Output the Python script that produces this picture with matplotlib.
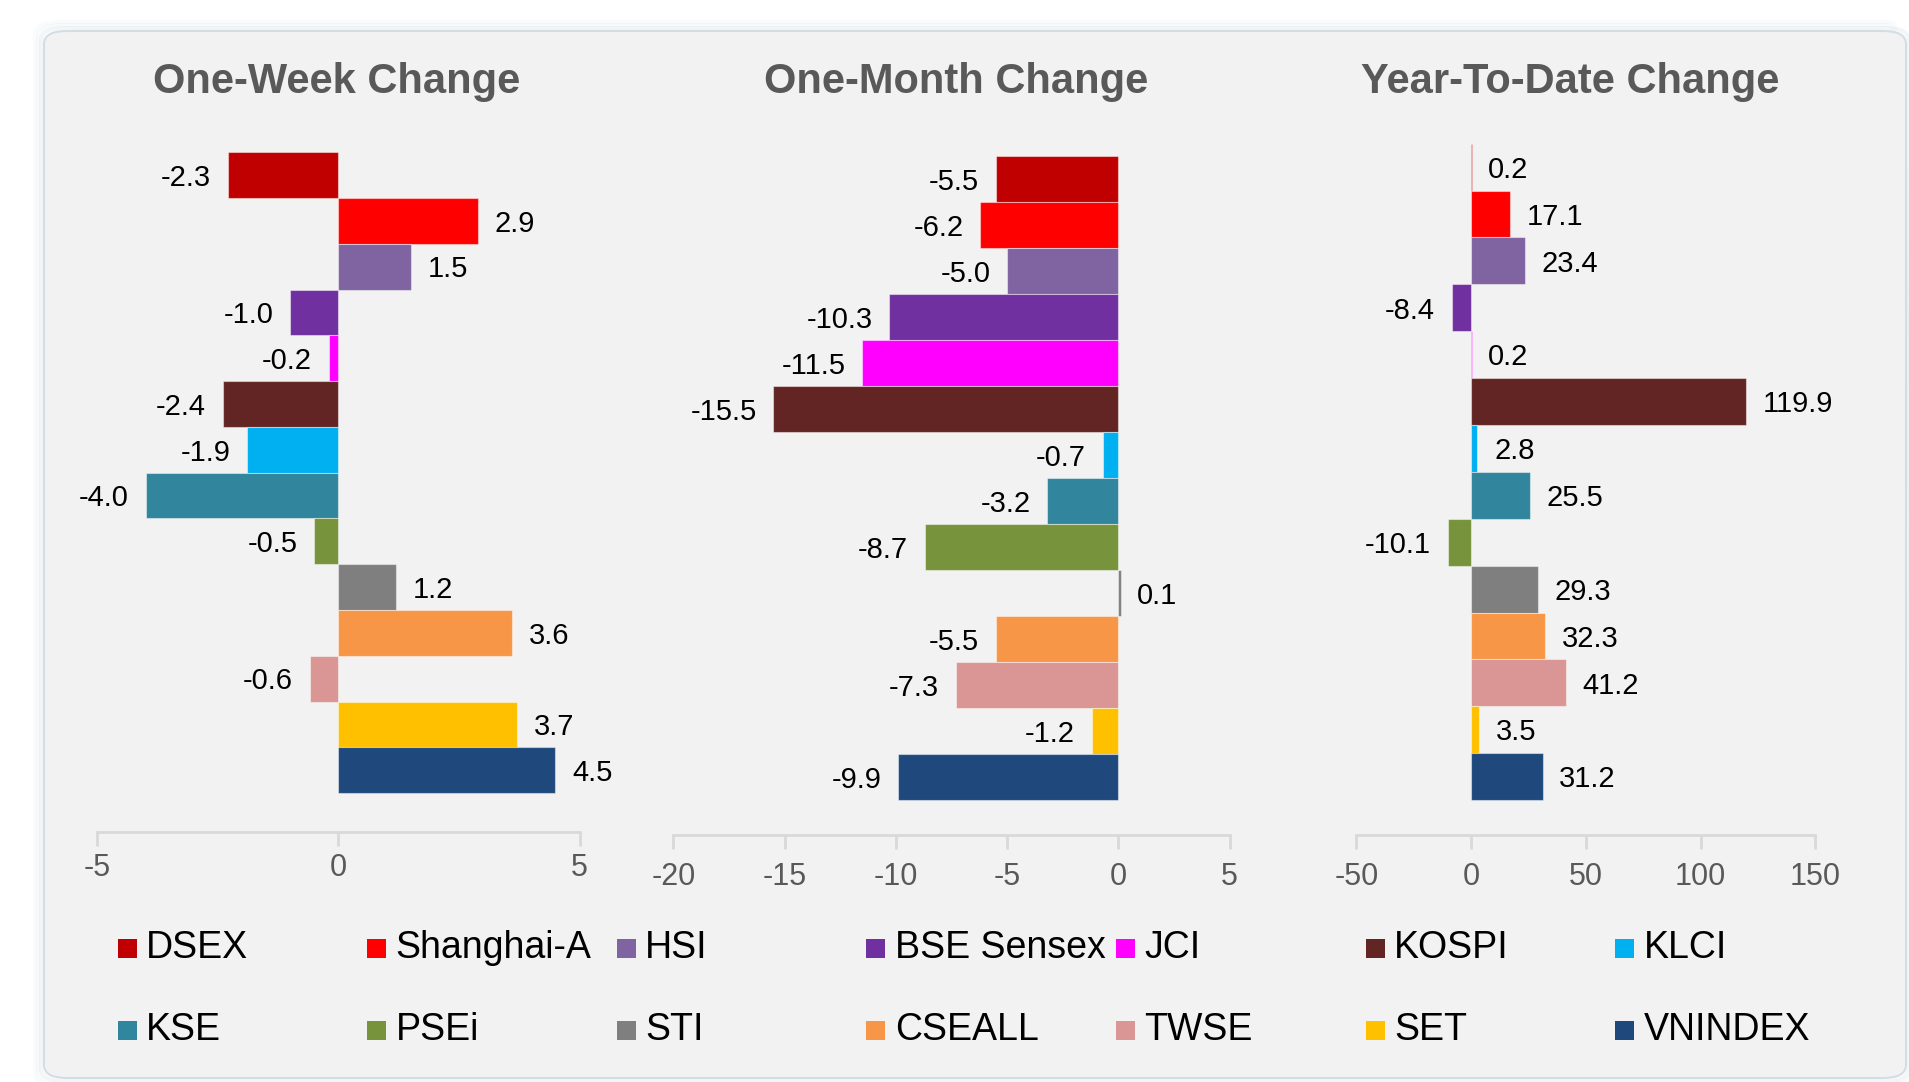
import matplotlib.pyplot as plt
from matplotlib.patches import FancyBboxPatch, Rectangle

plt.rcParams["font.family"] = ["Liberation Sans", "DejaVu Sans"]

# ---- data -------------------------------------------------------------
indices = ["DSEX", "Shanghai-A", "HSI", "BSE Sensex", "JCI", "KOSPI", "KLCI",
           "KSE", "PSEi", "STI", "CSEALL", "TWSE", "SET", "VNINDEX"]
colors = ["#C00000", "#FF0000", "#8064A2", "#7030A0", "#FF00FF", "#632523",
          "#00B0F0", "#31859C", "#77933C", "#7F7F7F", "#F79646", "#D99694",
          "#FFC000", "#1F497D"]

week_chg = [-2.3, 2.9, 1.5, -1.0, -0.2, -2.4, -1.9, -4.0, -0.5, 1.2, 3.6, -0.6, 3.7, 4.5]
month_chg = [-5.5, -6.2, -5.0, -10.3, -11.5, -15.5, -0.7, -3.2, -8.7, 0.1, -5.5, -7.3, -1.2, -9.9]
ytd_chg = [0.2, 17.1, 23.4, -8.4, 0.2, 119.9, 2.8, 25.5, -10.1, 29.3, 32.3, 41.2, 3.5, 31.2]

titles = ["One-Week Change", "One-Month Change", "Year-To-Date Change"]
ticks_week = [-5, 0, 5]
ticks_month = [-20, -15, -10, -5, 0, 5]
ticks_ytd = [-50, 0, 50, 100, 150]

W, H = 1909, 1082
fig = plt.figure(figsize=(W / 100, H / 100), dpi=100, facecolor="white")

# ---- rounded panel with soft glow (kept behind the axes) ----------------
px, py, pw, ph = 44, 4, 1862, 1047   # left, bottom, width, height (px)
for grow, a in [(9, 0.05), (6, 0.08), (3, 0.14)]:
    fig.patches.append(FancyBboxPatch(
        ((px - grow) / W, (py - grow) / H), (pw + 2 * grow) / W, (ph + 2 * grow) / H,
        boxstyle="round,pad=0,rounding_size=0.012", transform=fig.transFigure,
        fc="none", ec="#A9C0CC", lw=3, alpha=a, zorder=-2))
fig.patches.append(FancyBboxPatch(
    (px / W, py / H), pw / W, ph / H,
    boxstyle="round,pad=0,rounding_size=0.012", transform=fig.transFigure,
    fc="#F2F2F2", ec="#D3DEE4", lw=1.5, zorder=-1))

# axes boxes in pixel coords: (x_left, x_right, bar_top, axis_line_y)
boxes = [(97.4, 579.5, 152.2, 832.0),
         (673.3, 1229.7, 155.8, 835.2),
         (1356.3, 1815.3, 143.7, 835.2)]
limits = [(-5, 5), (-20, 5), (-50, 150)]
gaps = [0.85, 0.77, 0.75]
pads = [5, 9, 9]
title_x = [336.6, 955.7, 1570.6]
series = [week_chg, month_chg, ytd_chg]
tick_sets = [ticks_week, ticks_month, ticks_ytd]

n = len(indices)
for vals, (x0, x1, top, bot), lim, gap, pad, ticks, title, tx in zip(
        series, boxes, limits, gaps, pads, tick_sets, titles, title_x):
    ax = fig.add_axes([x0 / W, 1 - bot / H, (x1 - x0) / W, (bot - top) / H])
    ax.set_facecolor("none")
    ypos = list(range(n))
    ax.barh(ypos, vals, height=1.0, color=colors,
            edgecolor=(1, 1, 1, 0.45), linewidth=0.8, zorder=2)
    for y, v in zip(ypos, vals):
        off = 12 if v >= 0 else -12
        ax.annotate(f"{v:.1f}", (v, y), xytext=(off, -2), textcoords="offset points",
                    ha="left" if v >= 0 else "right", va="center",
                    fontsize=21, color="#000000")
    ax.set_xlim(*lim)
    ax.set_ylim(n - 0.5 + gap, -0.5)
    ax.set_xticks(ticks)
    ax.set_xticklabels([str(t) for t in ticks])
    ax.set_yticks([])
    for side in ["top", "right", "left"]:
        ax.spines[side].set_visible(False)
    ax.spines["bottom"].set_color("#D9D9D9")
    ax.spines["bottom"].set_linewidth(2)
    ax.tick_params(axis="x", colors="#D9D9D9", width=2, length=10,
                   labelsize=22, labelcolor="#595959", pad=pad)
    fig.text(tx / W, 1 - 82 / H, title, ha="center", va="center",
             fontsize=30, fontweight="bold", color="#595959")

# ---- legend (two rows of seven equal-width columns) ---------------------
col_x0, col_dx = 127, 249.6
row_y = [948, 1030]
for i, (name, c) in enumerate(zip(indices, colors)):
    cx = col_x0 + (i % 7) * col_dx
    cy = row_y[i // 7]
    fig.patches.append(Rectangle(((cx - 9.5) / W, 1 - (cy + 9.5) / H), 19 / W, 19 / H,
                                 transform=fig.transFigure, fc=c, ec="none", zorder=3))
    fig.text((cx + 19) / W, 1 - cy / H, name, ha="left", va="center",
             fontsize=27, color="#000000")

fig.savefig("out.png", dpi=100, facecolor="white")
